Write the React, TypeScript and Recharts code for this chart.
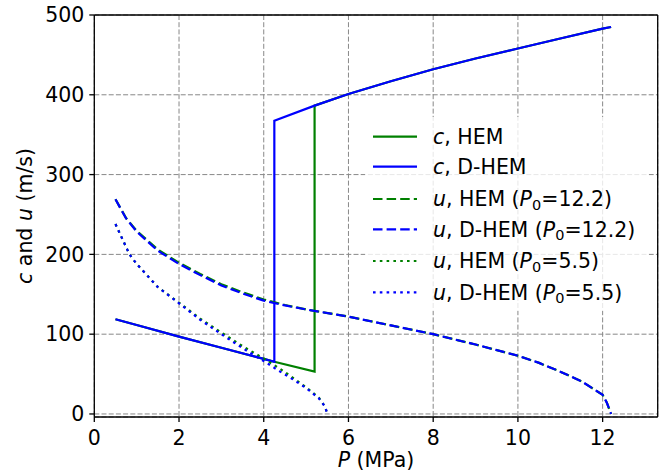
import React from 'react';
import { LineChart, Line, XAxis, YAxis, CartesianGrid, ReferenceLine, Legend } from 'recharts';

// ---- data ----
// sound speed c, D-HEM
const cDhemP = [0.5, 1, 2, 3, 4, 4.25, 4.25, 5.2, 6, 7, 8, 9, 10, 11, 12, 12.2];
const cDhemV = [118.7, 111.5, 97, 83, 69, 65.5, 367.5, 386.4, 401, 417, 432, 445.5, 458, 470.5, 483, 485];
// sound speed c, HEM
const cHemP = [0.5, 1, 2, 3, 4, 4.25, 5.2, 5.2, 6, 7, 8, 9, 10, 11, 12, 12.2];
const cHemV = [118.7, 111.5, 97, 83, 69, 65.5, 53, 386.4, 401, 417, 432, 445.5, 458, 470.5, 483, 485];
// velocity u, P0 = 12.2
const u122P = [0.5, 0.75, 1, 1.5, 2, 2.5, 3, 3.5, 4, 4.5, 5, 6, 7, 8, 9, 10, 10.5, 11, 11.5, 12, 12.1, 12.2];
const u122HemV = [269, 245.5, 229.5, 206, 189.5, 175.5, 162.5, 152.5, 143.5, 136.5, 131, 122, 111, 100, 87, 73, 64, 53, 41, 24, 14, 0];
const u122DhemV = [269, 245, 228.5, 204.5, 188, 174, 161, 151, 142, 136, 131, 122, 111, 100, 87, 73, 64, 53, 41, 24, 14, 0];
// velocity u, P0 = 5.5
const u55P = [0.5, 0.83, 1, 1.5, 2, 2.5, 3, 3.5, 4, 4.39, 4.7, 5, 5.3, 5.45, 5.5];
const u55HemV = [238, 200, 188, 159, 139.5, 119.5, 102, 85, 69.5, 56.5, 45, 33.5, 20.5, 9, 0];
const u55DhemV = [238, 200, 188, 159, 138.7, 118, 100, 82.5, 66.4, 53, 43, 32.5, 19.6, 9, 0];

const xTicks = [0, 2, 4, 6, 8, 10, 12];
const yTicks = [0, 100, 200, 300, 400, 500];
const X_MAX = 13.3;
const Y_MIN = -3.8;
const Y_MAX = 500;

const zip = (p: number[], v: number[]) => p.map((x, i) => ({ P: x, v: v[i] }));

const FONT = 'DejaVu Sans';
const GREEN = '#008000';
const BLUE = '#0000ff';
const LW = 2.2;
const DASH = '9.5 4.1';
const DOT = '2.6 4.2';

const series = [
  { key: 'cHem', data: zip(cHemP, cHemV), color: GREEN, dash: undefined as string | undefined },
  { key: 'cDhem', data: zip(cDhemP, cDhemV), color: BLUE, dash: undefined as string | undefined },
  { key: 'u122Hem', data: zip(u122P, u122HemV), color: GREEN, dash: DASH },
  { key: 'u122Dhem', data: zip(u122P, u122DhemV), color: BLUE, dash: DASH },
  { key: 'u55Hem', data: zip(u55P, u55HemV), color: GREEN, dash: DOT },
  { key: 'u55Dhem', data: zip(u55P, u55DhemV), color: BLUE, dash: DOT },
];

const it = (s: string) => <tspan fontStyle="italic">{s}</tspan>;
const P0 = (val: string) => (
  <>
    {it('P')}
    <tspan fontSize={14.5} dy={3.5}>0</tspan>
    <tspan dy={-3.5}>={val})</tspan>
  </>
);

const legendLabels = [
  <>{it('c')}, HEM</>,
  <>{it('c')}, D-HEM</>,
  <>{it('u')}, HEM ({P0('12.2')}</>,
  <>{it('u')}, D-HEM ({P0('12.2')}</>,
  <>{it('u')}, HEM ({P0('5.5')}</>,
  <>{it('u')}, D-HEM ({P0('5.5')}</>,
];
const rowY = [19.7, 49.7, 82, 112.3, 144, 175.3];

const LegendBox = () => (
  <svg width={284} height={194} style={{ display: 'block' }}>
    <rect x={0} y={0} width={284} height={194} rx={4} fill="#fff" fillOpacity={0.8} stroke="none" />
    {series.map((s, i) => (
      <g key={s.key}>
        <line x1={8} x2={52} y1={rowY[i]} y2={rowY[i]} stroke={s.color} strokeWidth={LW} strokeDasharray={s.dash} />
        <text x={68} y={rowY[i] + 7.2} fontSize={20.5} fontFamily={FONT} fill="#000">
          {legendLabels[i]}
        </text>
      </g>
    ))}
  </svg>
);

const YLabel = (props: any) => {
  const vb = props.viewBox || { x: 0, y: 15, width: 94, height: 402 };
  const cx = vb.x + 32;
  const cy = vb.y + vb.height / 2;
  return (
    <text x={cx} y={cy} transform={`rotate(-90, ${cx}, ${cy})`} textAnchor="middle" fontSize={20.5} fontFamily={FONT} fill="#000">
      {it('c')} and {it('u')} (m/s)
    </text>
  );
};

const XLabel = (props: any) => {
  const vb = props.viewBox || { x: 94, y: 417, width: 563, height: 58 };
  return (
    <text x={vb.x + vb.width / 2} y={vb.y + 50} textAnchor="middle" fontSize={20.5} fontFamily={FONT} fill="#000">
      {it('P')} (MPa)
    </text>
  );
};

export default function App() {
  return (
    <div style={{ position: 'absolute', left: 0, top: 0, width: 665, height: 475, background: '#fff' }}>
      <LineChart width={665} height={475} margin={{ top: 15, right: 7.3, left: 0, bottom: 0 }}>
        <CartesianGrid stroke="#888" strokeWidth={1} strokeDasharray="5 2.2" />
        <XAxis
          type="number"
          dataKey="P"
          domain={[0, X_MAX]}
          ticks={xTicks}
          interval={0}
          allowDataOverflow
          height={58}
          tickSize={5}
          tickMargin={8.5}
          axisLine={{ stroke: '#000', strokeWidth: 1.3 }}
          tickLine={{ stroke: '#000', strokeWidth: 1.3 }}
          tick={{ fill: '#000', fontSize: 20.5, fontFamily: FONT }}
          label={{ content: XLabel }}
        />
        <YAxis
          type="number"
          domain={[Y_MIN, Y_MAX]}
          ticks={yTicks}
          interval={0}
          allowDataOverflow
          width={94.3}
          tickSize={5}
          tickMargin={5}
          axisLine={{ stroke: '#000', strokeWidth: 1.3 }}
          tickLine={{ stroke: '#000', strokeWidth: 1.3 }}
          tick={{ fill: '#000', fontSize: 20.5, fontFamily: FONT }}
          label={{ content: YLabel }}
        />
        {series.map((s) => (
          <Line
            key={s.key}
            data={s.data}
            dataKey="v"
            type="linear"
            stroke={s.color}
            strokeWidth={LW}
            strokeDasharray={s.dash}
            dot={false}
            activeDot={false}
            isAnimationActive={false}
          />
        ))}
        <ReferenceLine y={Y_MAX} stroke="#000" strokeWidth={1.3} />
        <ReferenceLine x={X_MAX} stroke="#000" strokeWidth={1.3} />
        <Legend
          layout="vertical"
          align="center"
          verticalAlign="middle"
          wrapperStyle={{ left: 365, top: 117, width: 284, height: 194 }}
          content={() => <LegendBox />}
        />
      </LineChart>
    </div>
  );
}
